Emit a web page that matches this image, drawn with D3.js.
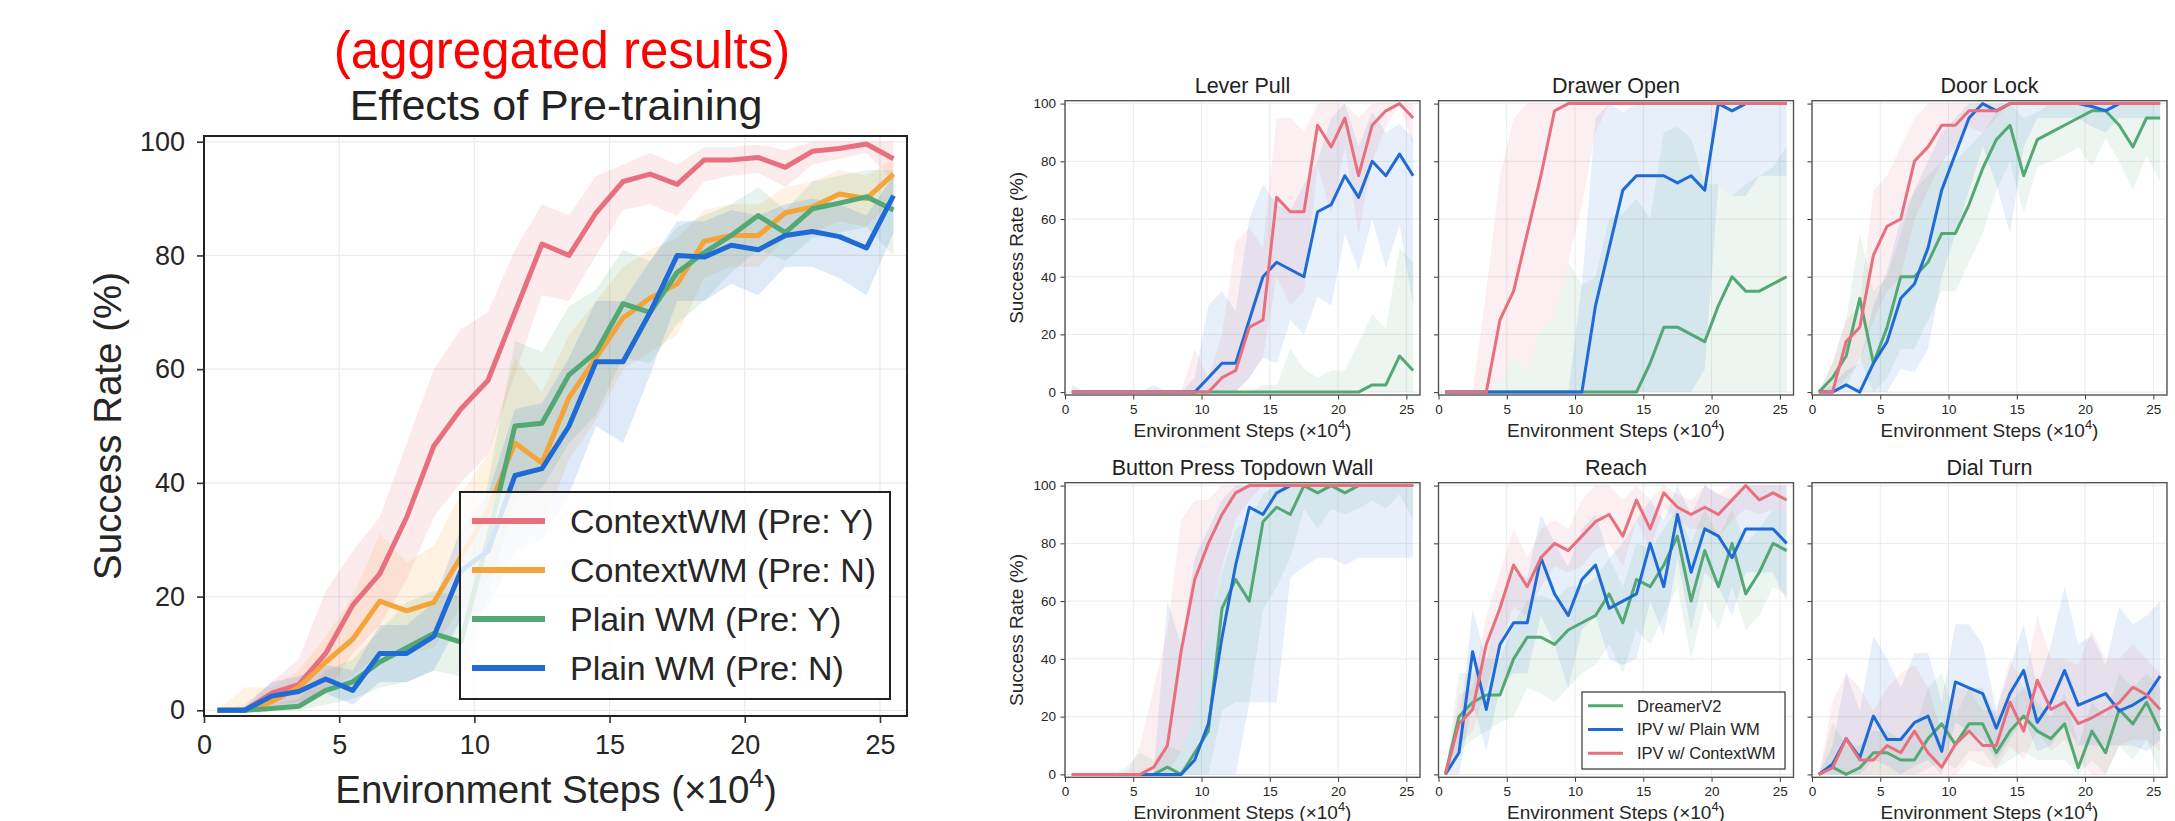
<!DOCTYPE html>
<html>
<head>
<meta charset="utf-8">
<script src="https://cdn.jsdelivr.net/npm/d3@7"></script>
<style>
  body { margin: 0; background: #fff; }
  svg text { font-family: "Liberation Sans", Arial, sans-serif; fill: #262626; }
</style>
</head>
<body>
<svg id="fig" width="2175" height="821"></svg>
<script>
// x positions of every evaluation (x10^4 env steps)
const steps = [0.5,1.5,2.5,3.5,4.5,5.5,6.5,7.5,8.5,9.5,10.5,11.5,12.5,13.5,14.5,15.5,16.5,17.5,18.5,19.5,20.5,21.5,22.5,23.5,24.5,25.5];
const xTicks = [0,5,10,15,20,25];
const yTicks = [0,20,40,60,80,100];

// ---- aggregated chart (left) ----
const aggNames = ["ContextWM (Pre: Y)", "ContextWM (Pre: N)", "Plain WM (Pre: Y)", "Plain WM (Pre: N)"];
const aggCtxPreY   = [0,0,3,4.5,10,18.5,24,34,46.5,53,58,70,82,80,87.5,93,94.3,92.5,96.8,96.8,97.2,95.5,98.3,98.8,99.6,97];
const aggCtxPreYHi = [0,1,5,9,21,28,34,47,60,67,70,81,89,87,94,96,98,96,99,99,99.5,98.5,100,100,100,100];
const aggCtxPreYLo = [0,0,1,1.5,3,10,15,23,34,40,45,59,73,72,80,88,89,87,93,94,94.5,92,96,97,98,93];
const aggCtxPreN   = [0,0,1.5,4,8.5,12.5,19.2,17.5,19,27,35,47,43.5,55,62,69,72.5,75,82.5,83.5,83.5,87.5,88.5,90.8,90,94.3];
const aggCtxPreNHi = [0,4,4,7,13,20,31,26,29,38,45,62,56,66,72,78,81,83,88,89,89,92,93,95,94,97];
const aggCtxPreNLo = [0,0,0,1,4,6,10,10,11,18,23,34,32,44,51,60,63,66,76,78,78,83,84,86,85,90];
const aggPlainPreY   = [0,0,0.3,0.7,3.5,5,8.5,11,13.5,12,30,50,50.5,59,63,71.5,70,77,80.5,83.5,87,84,88.2,89.2,90.3,88];
const aggPlainPreYHi = [0,0.5,1,2,7,9,14,19,21,20,40,65,63,71,74,81,79,85,87,89,92,88,93,94,95,95];
const aggPlainPreYLo = [0,0,0,0,1,2,4,5,7,6,20,37,39,47,52,62,61,68,72,77,81,79,83,84,85,80];
const aggPlainPreN   = [0,0,2.5,3.3,5.5,3.5,10,10,13,24.5,28,41.3,42.5,50,61.3,61.3,70,80,79.7,81.8,81,83.5,84.2,83.3,81.3,90.5];
const aggPlainPreNHi = [0,0.5,5,6,8,7,15,15,19,32,38,53,54,62,72,72,79,86,86,88,87,89,90,89,87,94];
const aggPlainPreNLo = [0,0,0.5,1,3,1,5,5,7,16,18,28,30,38,50,47,59,72,72,75,73,78,78,76,73,84];

// ---- per-task charts (right) ----
const taskNames = ["Lever Pull", "Drawer Open", "Door Lock", "Button Press Topdown Wall", "Reach", "Dial Turn"];
const methodNames = ["DreamerV2", "IPV w/ Plain WM", "IPV w/ ContextWM"];

const leverDreamer   = [0,0,0,0,0,0,0,0,0,0,0,0,0,0,0,0,0,0,0,0,0,0,2.5,2.5,12.5,7.5];
const leverDreamerHi = [0,0,0,0,0,0,0,0,0,0,0,0,0,0,2.5,2.5,15,8,5,7.5,7.5,17,27,22,50,45];
const leverDreamerLo = [0,0,0,0,0,0,0,0,0,0,0,0,0,0,0,0,0,0,0,0,0,0,0,0,0,0];
const leverPlain   = [0,0,0,0,0,0,0,0,0,0,5,10,10,25,40,45,42.5,40,62.5,65,75,67.5,80,75,82.5,75];
const leverPlainHi = [2.5,0,0,0,0,0,2.5,0,0,5,30,35,28,60,72,65,63,72,80,95,100,85,97,90,93,88];
const leverPlainLo = [0,0,0,0,0,0,0,0,0,0,0,0,0,5,12,10,25,20,33,30,55,42,60,43,58,30];
const leverCtx   = [0,0,0,0,0,0,0,0,0,0,0,5,7.5,22.5,25,67.5,62.5,62.5,92.5,85,95,75,92.5,97.5,100,95];
const leverCtxHi = [0,0,0,0,0,0,0,0,0,15,5,20,52,57,50,95,95,90,100,100,100,95,100,100,100,100];
const leverCtxLo = [0,0,0,0,0,0,0,0,0,0,0,0,0,5,12,40,30,35,78,62,85,55,80,92,100,85];

const drawerDreamer   = [0,0,0,0,0,0,0,0,0,0,0,0,0,0,0,10,22.5,22.5,20,17.5,30,40,35,35,37.5,40];
const drawerDreamerHi = [0,0,0,0,3,12,6,22,25,45,37,40,60,62,67,60,90,92,88,72,72,68,72,75,78,85];
const drawerDreamerLo = [0,0,0,0,0,0,0,0,0,0,0,0,0,0,0,0,0,0,0,0,0,0,0,0,0,0];
const drawerPlain   = [0,0,0,0,0,0,0,0,0,0,0,30,50,70,75,75,75,72.5,75,70,100,97.5,100,100,100,100];
const drawerPlainHi = [0,0,0,0,0,0,0,0,0,0,37,95,100,97,100,100,100,100,100,100,100,100,100,100,100,100];
const drawerPlainLo = [0,0,0,0,0,0,0,0,0,0,0,0,0,0,0,0,0,0,0,8,72,68,68,75,75,75];
const drawerCtx   = [0,0,0,0,25,35,55,75,97.5,100,100,100,100,100,100,100,100,100,100,100,100,100,100,100,100,100];
const drawerCtxHi = [0,0,0,35,75,95,100,100,100,100,100,100,100,100,100,100,100,100,100,100,100,100,100,100,100,100];
const drawerCtxLo = [0,0,0,0,3,12,6,22,25,45,65,90,100,100,100,100,100,100,100,100,100,100,100,100,100,100];

const doorDreamer   = [0,5,12.5,32.5,10,22.5,40,40,45,55,55,65,77.5,87.5,92.5,75,87.5,90,92.5,95,97.5,97.5,92.5,85,95,95];
const doorDreamerHi = [0,10,25,55,35,40,55,70,75,80,80,85,90,97,100,95,97,100,100,100,100,100,100,100,100,100];
const doorDreamerLo = [0,0,2,12,0,5,15,15,25,35,35,45,55,70,80,62,78,80,82,85,78,88,80,70,82,73];
const doorPlain   = [0,0,2.5,0,10,17.5,32.5,37.5,50,70,82.5,95,100,97.5,100,100,100,100,100,100,99,97.5,100,100,100,100];
const doorPlainHi = [0,2.5,7.5,10,30,42,60,70,80,90,95,100,100,100,100,100,100,100,100,100,100,100,100,100,100,100];
const doorPlainLo = [0,0,0,0,0,0,8,7,15,40,55,70,85,72,55,85,95,95,95,95,92,90,95,95,95,95];
const doorCtx   = [0,0,17.5,22.5,47.5,57.5,60,80,85,92.5,92.5,97.5,97.5,97.5,100,100,100,100,100,100,100,100,100,100,100,100];
const doorCtxHi = [0,10,25,30,70,75,85,95,100,100,100,100,100,100,100,100,100,100,100,100,100,100,100,100,100,100];
const doorCtxLo = [0,0,5,10,25,35,40,60,70,80,85,92,90,95,100,100,100,100,100,100,100,100,100,100,100,100];

const buttonDreamer   = [0,0,0,0,0,0,0,2.5,0,7.5,15,57.5,67.5,60,87.5,92.5,90,100,97.5,100,97.5,100,100,100,100,100];
const buttonDreamerHi = [0,0,0,0,2.5,7.5,5,10,8,20,50,70,85,88,97,100,100,100,100,100,100,100,100,100,100,100];
const buttonDreamerLo = [0,0,0,0,0,0,0,0,0,0,0,22,25,25,57,65,75,92,85,92,90,92,95,92,97,88];
const buttonPlain   = [0,0,0,0,0,0,0,0,0,5,17.5,47.5,72.5,92.5,90,97.5,100,100,100,100,100,100,100,100,100,100];
const buttonPlainHi = [0,0,0,0,0,0,0,60,45,75,85,95,100,100,100,100,100,100,100,100,100,100,100,100,100,100];
const buttonPlainLo = [0,0,0,0,0,0,0,0,0,0,0,0,0,25,25,25,68,72,75,75,72.5,75,75,75,75,75];
const buttonCtx   = [0,0,0,0,0,0,2.5,10,42.5,67.5,80,90,97.5,100,100,100,100,100,100,100,100,100,100,100,100,100];
const buttonCtxHi = [0,0,0,0,0,10,30,50,88,95,95,100,100,100,100,100,100,100,100,100,100,100,100,100,100,100];
const buttonCtxLo = [0,0,0,0,0,0,0,0,8,20,50,72,88,95,100,100,100,100,100,100,100,100,100,100,100,100];

const reachDreamer   = [0,20,25,27.5,27.5,40,47.5,47.5,45,50,52.5,55,62.5,52.5,67.5,65,72.5,82.5,60,77.5,65,80,62.5,70,80,77.5];
const reachDreamerHi = [0,35,35,40,40,52,60,62,60,65,65,68,75,65,80,78,85,92,80,92,82,92,80,85,92,90];
const reachDreamerLo = [0,8,12,15,18,20,30,28,25,30,35,38,45,35,50,45,55,65,40,60,50,65,50,55,65,62];
const reachPlain   = [0,7.5,42.5,22.5,45,52.5,52.5,75,62.5,55,67.5,72.5,57.5,60,62.5,80,65,90,70,85,82.5,75,85,85,85,80];
const reachPlainHi = [0,15,57,40,60,70,68,90,80,72,85,90,75,80,88,95,88,100,90,100,97,95,100,100,100,100];
const reachPlainLo = [0,0,25,8,30,35,35,55,45,30,50,55,40,38,40,60,48,75,50,70,65,55,70,70,70,60];
const reachCtx   = [0,17.5,22.5,45,57.5,72.5,65,75,80,77.5,82.5,87.5,90,82.5,95,85,97.5,92.5,90,92.5,90,95,100,95,97.5,95];
const reachCtxHi = [0,27.5,30,55,70,85,75,85,88,85,95,100,100,95,100,95,100,97,95,100,97,100,100,100,100,100];
const reachCtxLo = [0,10,15,30,45,58,55,65,72,70,72,78,80,72,88,78,92,88,85,85,82,88,92,90,92,90];

const dialDreamer   = [0,2.5,0,2.3,7.5,7.5,5,5,12.4,17.5,10.4,17.5,17.5,7.5,15,20.2,15,12.4,17.5,2.3,15,7.5,22.5,17.5,25,15];
const dialDreamerHi = [0,18,10,10,15,15,12,15,30,35,20,30,30,20,25,30,25,20,28,10,25,20,35,30,35,30];
const dialDreamerLo = [0,0,0,0,0,0,0,0,2,5,2,8,8,2,5,8,5,5,5,0,5,0,10,5,12,0];
const dialPlain   = [0,3.5,12.4,5.8,20.2,12.1,12.1,17.9,20.2,8,32,30,28,16,28,36,18,25,36,24,26,28,22,24,27,34];
const dialPlainHi = [0,10,35,22,48,40,30,42,42,25,52,52,45,22,37,52,30,45,65,45,48,38,58,52,55,60];
const dialPlainLo = [0,0,0,0,5,3,0,3,5,0,18,15,12,5,12,20,8,10,18,10,10,10,10,10,8,12];
const dialCtx   = [0,2.3,12.4,5,5,10,7.5,15,7.5,2.5,10.4,15,10,10,25,15,32.6,22.5,25,17.6,19.6,22.2,24.8,30.2,27.6,22.5];
const dialCtxHi = [0,25,35,30,22,30,35,38,30,15,30,30,22,22,40,30,55,40,40,38,50,40,40,45,40,35];
const dialCtxLo = [0,0,0,0,0,0,0,0,0,0,0,5,3,2,10,5,15,8,12,5,0,0,10,12,12,8];

// colours
const PINK = "#e86f7e", ORANGE = "#f5a43a", GREEN = "#53a874", BLUE = "#1f6bd6";

const svg = d3.select("#fig");
svg.append("rect").attr("width", 2175).attr("height", 821).attr("fill", "#fff");

function xStepsLabel(g, x, y, size) {
    const t = g.append("text")
        .attr("x", x).attr("y", y)
        .attr("text-anchor", "middle")
        .style("font-size", size + "px");
    t.append("tspan").text("Environment Steps (\u00d710");
    t.append("tspan").attr("dy", -0.42 * size).style("font-size", (size * 0.68) + "px").text("4");
    t.append("tspan").attr("dy", 0.42 * size).text(")");
}

// generic axes box: grid, ticks, spine
function makeAxes(box, opts) {
    const x = d3.scaleLinear().domain([0, 26]).range([box.x0, box.x1]);
    const y = d3.scaleLinear().domain([-1, 101]).range([box.y1, box.y0]);
    const g = svg.append("g");

    // grid
    g.append("g").selectAll("line").data(xTicks).join("line")
        .attr("x1", d => x(d)).attr("x2", d => x(d))
        .attr("y1", box.y0).attr("y2", box.y1)
        .attr("stroke", "#ebebeb").attr("stroke-width", opts.grid);
    g.append("g").selectAll("line").data(yTicks).join("line")
        .attr("x1", box.x0).attr("x2", box.x1)
        .attr("y1", d => y(d)).attr("y2", d => y(d))
        .attr("stroke", "#ebebeb").attr("stroke-width", opts.grid);

    const xa = g.append("g").attr("transform", `translate(0,${box.y1})`)
        .call(d3.axisBottom(x).tickValues(xTicks).tickSize(opts.tick).tickPadding(opts.pad));
    const ya = g.append("g").attr("transform", `translate(${box.x0},0)`)
        .call(d3.axisLeft(y).tickValues(yTicks).tickSize(opts.tick).tickPadding(opts.pad)
            .tickFormat(opts.yLabels ? d3.format("d") : () => ""));
    [xa, ya].forEach(a => {
        a.select(".domain").remove();
        a.selectAll(".tick line").attr("stroke", "#333").attr("stroke-width", opts.spine);
        a.selectAll(".tick text").style("font-size", opts.tickFont + "px")
            .style("font-family", "'Liberation Sans', Arial, sans-serif").attr("fill", "#262626");
    });
    return { x, y, g };
}

function drawSpine(box, color, w) {
    svg.append("rect")
        .attr("x", box.x0).attr("y", box.y0)
        .attr("width", box.x1 - box.x0).attr("height", box.y1 - box.y0)
        .attr("fill", "none").attr("stroke", color).attr("stroke-width", w);
}

function drawSeries(ax, list, bandAlpha, lw) {
    const area = d3.area()
        .x((d, i) => ax.x(steps[i]))
        .y0(d => ax.y(d[0])).y1(d => ax.y(d[1]));
    const line = d3.line()
        .x((d, i) => ax.x(steps[i]))
        .y(d => ax.y(d));
    list.forEach(s => {
        ax.g.append("path")
            .attr("d", area(s.lo.map((v, i) => [v, s.hi[i]])))
            .attr("fill", s.color).attr("fill-opacity", bandAlpha).attr("stroke", "none");
    });
    list.forEach(s => {
        ax.g.append("path")
            .attr("d", line(s.mean))
            .attr("fill", "none").attr("stroke", s.color)
            .attr("stroke-width", lw).attr("stroke-linejoin", "round");
    });
}

// -------------------------
// LEFT: aggregated results
// -------------------------
const bigBox = { x0: 204, x1: 907, y0: 136, y1: 716 };
const bigAx = makeAxes(bigBox, { tick: 7, pad: 12, tickFont: 27, grid: 1.3, spine: 1.6, yLabels: true });
const aggSeries = [
    { name: aggNames[0], color: PINK,   mean: aggCtxPreY,   lo: aggCtxPreYLo,   hi: aggCtxPreYHi },
    { name: aggNames[1], color: ORANGE, mean: aggCtxPreN,   lo: aggCtxPreNLo,   hi: aggCtxPreNHi },
    { name: aggNames[2], color: GREEN,  mean: aggPlainPreY, lo: aggPlainPreYLo, hi: aggPlainPreYHi },
    { name: aggNames[3], color: BLUE,   mean: aggPlainPreN, lo: aggPlainPreNLo, hi: aggPlainPreNHi }
];
drawSeries(bigAx, aggSeries, 0.14, 5);
drawSpine(bigBox, "#222", 2);

// legend
const lg = svg.append("g");
lg.append("rect").attr("x", 460).attr("y", 492).attr("width", 430).attr("height", 207)
    .attr("fill", "#fff").attr("fill-opacity", 0.82).attr("stroke", "#222").attr("stroke-width", 2);
aggSeries.forEach((s, i) => {
    const yy = 521 + i * 49;
    lg.append("line").attr("x1", 472).attr("x2", 545).attr("y1", yy).attr("y2", yy)
        .attr("stroke", s.color).attr("stroke-width", 6);
    lg.append("text").attr("x", 570).attr("y", yy).attr("dy", "0.36em")
        .style("font-size", "34px").text(s.name);
});

svg.append("text").attr("x", 562).attr("y", 68).attr("text-anchor", "middle")
    .style("font-size", "51px").style("fill", "#ff0000").text("(aggregated results)");
svg.append("text").attr("x", 556).attr("y", 120).attr("text-anchor", "middle")
    .style("font-size", "43px").style("fill", "#222").text("Effects of Pre-training");
xStepsLabel(svg, 556, 803, 38.5);
svg.append("text").attr("transform", "translate(121,426) rotate(-90)")
    .attr("text-anchor", "middle").style("font-size", "38.5px").text("Success Rate (%)");

// -------------------------
// RIGHT: per-task grid
// -------------------------
const colX = [1065, 1438.5, 1812];
const rowY = [[100.7, 395], [482.7, 777.3]];
const panelW = 355;
const taskData = [
    [leverDreamer, leverDreamerLo, leverDreamerHi, leverPlain, leverPlainLo, leverPlainHi, leverCtx, leverCtxLo, leverCtxHi],
    [drawerDreamer, drawerDreamerLo, drawerDreamerHi, drawerPlain, drawerPlainLo, drawerPlainHi, drawerCtx, drawerCtxLo, drawerCtxHi],
    [doorDreamer, doorDreamerLo, doorDreamerHi, doorPlain, doorPlainLo, doorPlainHi, doorCtx, doorCtxLo, doorCtxHi],
    [buttonDreamer, buttonDreamerLo, buttonDreamerHi, buttonPlain, buttonPlainLo, buttonPlainHi, buttonCtx, buttonCtxLo, buttonCtxHi],
    [reachDreamer, reachDreamerLo, reachDreamerHi, reachPlain, reachPlainLo, reachPlainHi, reachCtx, reachCtxLo, reachCtxHi],
    [dialDreamer, dialDreamerLo, dialDreamerHi, dialPlain, dialPlainLo, dialPlainHi, dialCtx, dialCtxLo, dialCtxHi]
];
const methodColors = [GREEN, BLUE, PINK];

taskNames.forEach((name, k) => {
    const col = k % 3, row = Math.floor(k / 3);
    const box = { x0: colX[col], x1: colX[col] + panelW, y0: rowY[row][0], y1: rowY[row][1] };
    const ax = makeAxes(box, { tick: 4.5, pad: 4.5, tickFont: 13.5, grid: 1, spine: 1, yLabels: col === 0 });
    const d = taskData[k];
    const series = methodNames.map((m, j) => ({
        name: m, color: methodColors[j], mean: d[j * 3], lo: d[j * 3 + 1], hi: d[j * 3 + 2]
    }));
    drawSeries(ax, series, 0.11, 3);
    drawSpine(box, "#555", 1.4);

    svg.append("text").attr("x", (box.x0 + box.x1) / 2).attr("y", box.y0 - 7.5)
        .attr("text-anchor", "middle").style("font-size", "21.5px").style("fill", "#222").text(name);
    xStepsLabel(svg, (box.x0 + box.x1) / 2, box.y1 + 42, 19);
    if (col === 0) {
        svg.append("text")
            .attr("transform", `translate(${box.x0 - 42},${(box.y0 + box.y1) / 2}) rotate(-90)`)
            .attr("text-anchor", "middle").style("font-size", "19px").text("Success Rate (%)");
    }

    if (name === "Reach") {
        const lgr = svg.append("g");
        lgr.append("rect").attr("x", 1582).attr("y", 692).attr("width", 203).attr("height", 77)
            .attr("fill", "#fff").attr("fill-opacity", 0.82).attr("stroke", "#333").attr("stroke-width", 1.2);
        series.forEach((s, i) => {
            const yy = 705.7 + i * 23.8;
            lgr.append("line").attr("x1", 1588).attr("x2", 1623).attr("y1", yy).attr("y2", yy)
                .attr("stroke", s.color).attr("stroke-width", 3);
            lgr.append("text").attr("x", 1637).attr("y", yy).attr("dy", "0.36em")
                .style("font-size", "16.5px").text(s.name);
        });
    }
});
</script>
</body>
</html>
